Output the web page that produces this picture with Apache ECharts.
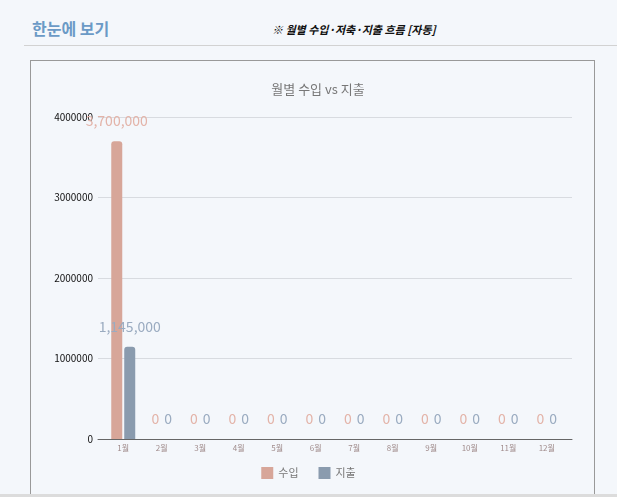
<!DOCTYPE html>
<html>
<head>
<meta charset="utf-8">
<script src="https://cdn.jsdelivr.net/npm/echarts@6/dist/echarts.min.js"></script>
<style>
html, body { margin:0; padding:0; width:617px; height:497px; overflow:hidden; background:#f4f7fb; font-family:"Noto Sans CJK KR","Noto Sans",sans-serif; }
#head { position:absolute; left:32px; top:16px; font-size:16px; font-weight:bold; color:#6b9ac6; }
#note { position:absolute; left:272px; top:21px; font-size:11px; font-weight:bold; font-style:italic; color:#111; }
#rule { position:absolute; left:24px; top:45px; width:593px; height:1px; background:#d2d2d2; }
#box { position:absolute; left:30px; top:60px; width:563px; height:440px; border:1px solid #999; }
#band { position:absolute; left:0; top:494px; width:617px; height:3px; background:#dcdcdc; }
#chart { position:absolute; left:0; top:0; width:617px; height:497px; }
</style>
</head>
<body>
<div id="head">한눈에 보기</div>
<div id="note">※ 월별 수입·저축·지출 흐름 [자동]</div>
<div id="rule"></div>
<div id="box"></div>
<div id="band"></div>
<div id="chart"></div>
<script>
var months = ['1월','2월','3월','4월','5월','6월','7월','8월','9월','10월','11월','12월'];
var income = [3700000,0,0,0,0,0,0,0,0,0,0,0];
var expense = [1145000,0,0,0,0,0,0,0,0,0,0,0];
var yTicks = [0,1000000,2000000,3000000,4000000];

function fmt(v) {
	return String(v).replace(/\B(?=(\d{3})+(?!\d))/g, ',');
}

var myChart = echarts.init(document.getElementById('chart'));
var option = {
	animation:false,
	textStyle:{ fontFamily:'"Noto Sans CJK KR","Noto Sans",sans-serif' },
	title:{
		text:'월별 수입 vs 지출',
		left:313,
		top:78,
		textAlign:'center',
		textStyle:{ color:'#777', fontSize:13, fontWeight:'normal' }
	},
	legend:{
		data:['수입','지출'],
		left:'center',
		top:462,
		itemWidth:12,
		itemHeight:12,
		itemGap:20,
		icon:'rect',
		textStyle:{ color:'#777', fontSize:11 }
	},
	grid:[
		{ left:104, right:51, top:117, bottom:58 },
		{ left:98, right:45, top:117, bottom:58 }
	],
	xAxis:[{
		type:'category',
		gridIndex:0,
		data:months,
		axisLine:{ show:false },
		axisTick:{ show:false },
		axisLabel:{ color:'#a08c8c', fontSize:8, margin:5 }
	},{
		type:'category',
		gridIndex:1,
		data:months,
		axisLine:{ lineStyle:{ color:'#666', width:1 } },
		axisTick:{ show:false },
		axisLabel:{ show:false }
	}],
	yAxis:[{
		type:'value',
		gridIndex:0,
		min:0, max:4000000, interval:1000000,
		axisLabel:{ show:false },
		splitLine:{ show:false }
	},{
		type:'value',
		gridIndex:1,
		min:yTicks[0], max:yTicks[yTicks.length-1], interval:1000000,
		axisLabel:{ color:'#111', fontSize:10, margin:5, formatter:function(v){ return String(v); } },
		splitLine:{ lineStyle:{ color:'#d8dbe0' } }
	}],
	series:[{
		name:'수입',
		type:'bar',
		xAxisIndex:0, yAxisIndex:0,
		data:income,
		barWidth:11,
		barGap:'18%',
		itemStyle:{ color:'#d7a699', borderRadius:[3,3,0,0] },
		label:{
			show:true, position:'top', distance:13,
			color:'#e3b3a8', fontSize:14,
			formatter:function(p){ return fmt(p.value); }
		}
	},{
		name:'지출',
		type:'bar',
		xAxisIndex:0, yAxisIndex:0,
		data:expense,
		barWidth:11,
		itemStyle:{ color:'#8a9bae', borderRadius:[3,3,0,0] },
		label:{
			show:true, position:'top', distance:13,
			color:'#9aabc0', fontSize:14,
			formatter:function(p){ return fmt(p.value); }
		}
	}]
};
myChart.setOption(option);
</script>
</body>
</html>
